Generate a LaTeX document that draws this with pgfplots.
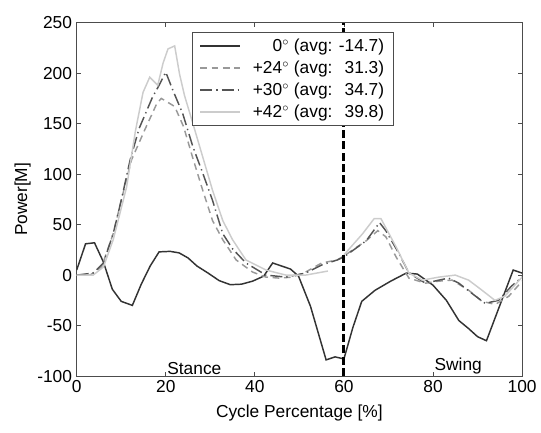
\documentclass[border=0pt]{standalone}
\usepackage{fontspec}
\setmainfont{Liberation Sans}
\usepackage{pgfplots}
\pgfplotsset{compat=1.18}
\definecolor{ser0}{gray}{0.20}
\definecolor{ser24}{gray}{0.60}
\definecolor{ser30}{gray}{0.33}
\definecolor{ser42}{gray}{0.80}
\definecolor{axgray}{gray}{0.30}
\newcommand{\figfont}{\fontsize{13}{15}\selectfont}

\begin{document}
\begin{tikzpicture}
\begin{axis}[
  scale only axis,
  width=334pt, height=265pt,
  xmin=0, xmax=100, ymin=-100, ymax=250,
  xtick={0,20,...,100}, ytick={-100,-50,...,250},
  tick align=inside, tick pos=both,
  major tick length=3pt,
  axis line style={axgray, line width=0.8pt},
  tick style={axgray, line width=0.6pt},
  xlabel={Cycle Percentage [\%]},
  ylabel={Power[M]},
  tick label style={font=\figfont},
  label style={font=\figfont},
  ylabel style={yshift=-2pt},
  xlabel style={yshift=-2pt},
  /pgf/number format/assume math mode=true,
  unbounded coords=jump,
  legend style={at={(axis cs:26,241)}, anchor=north west,
    font=\figfont, draw=axgray, line width=0.6pt,
    row sep=1.5pt, column sep=7pt, inner xsep=5pt, inner ysep=3pt},
  legend cell align=right,
  legend image code/.code={
    \draw[#1] (0cm,0cm) -- (1.05cm,0cm);},
]
% 0 deg
\addplot[ser0, line width=1.1pt] coordinates {
  (0,5) (2,31) (4,32) (6,13) (8,-14) (10,-26) (12.5,-30) (14.5,-9)
  (16.5,9) (18.5,23) (21,23.5) (23,22) (25,17) (27,9) (29.5,2)
  (32,-5.5) (34.5,-9.5) (37,-9) (39.5,-6) (42,-1) (44,12) (48,6)
  (49.8,-1) (52.5,-31) (56,-84) (58,-81) (60,-83) (62,-52) (64,-26)
  (67,-15) (70.5,-6) (74,2) (76.5,1) (80,-10) (83,-25) (85.8,-45)
  (88,-53) (90,-61) (92,-65) (95,-30) (98,5) (100,2)
};
\addlegendentry{0$^{\circ}$ (avg: -14.7)}
% +24 deg
\addplot[ser24, line width=1.1pt, dash pattern=on 5pt off 3.5pt] coordinates {
  (0,0) (3,0) (5.6,8) (8.2,41) (10,74) (12.3,114) (15.3,144) (18,170)
  (19,175) (22,167) (24,147) (26,117) (28.3,84) (30.5,54) (32.8,35)
  (35.8,15) (39.5,3) (42.5,-2) (45.5,-3) (48.4,-2) (51.4,3) (55,12)
  (58.5,15) (60,19) (65,34) (67.6,44) (69.4,38) (71.7,18) (74.6,-3)
  (78.3,-8) (81.3,-6) (84.3,-5) (88,-15) (91,-26) (94,-29) (97,-21)
  (100,-6)
};
\addlegendentry{+24$^{\circ}$ (avg: \hphantom{-}31.3)}
% +30 deg
\addplot[ser30, line width=1.1pt, dash pattern=on 9pt off 3pt on 1pt off 3pt] coordinates {
  (0,0) (3.7,2) (6,12) (8.2,41) (10,74) (12,114) (14,145) (17,176)
  (18.5,188) (20,201) (21.6,183) (23.8,160) (26.1,127) (28.3,101)
  (30.5,74) (32.8,41) (35,26) (38,12) (42.5,0) (47,-2) (51.4,2)
  (55,10) (58.5,15) (60,18) (65,34) (68,52) (69.4,44) (72.4,21)
  (74.6,2) (78.3,-8) (81.3,-5) (83.5,-3) (85.8,-8) (88.7,-18)
  (91.7,-28) (94.7,-25) (97.6,-11) (100,-2)
};
\addlegendentry{+30$^{\circ}$ (avg: \hphantom{-}34.7)}
% +42 deg
\addplot[ser42, line width=1.1pt] coordinates {
  (0,0) (3.7,0) (6,8) (8.2,35) (11.2,87) (13.2,143) (14.9,181)
  (16.4,196) (18.2,188) (19.4,210) (20.5,224) (22,227) (23.1,199)
  (24.2,178) (26.1,150) (28.3,117) (30.5,84) (32.8,54) (35,35)
  (38,15) (42.5,5) (47,0) (51.4,0) (56.4,4) (58,nan)
  (60,20) (64.2,41) (66.8,56) (68.3,56) (71.7,28) (74.6,2) (77.6,-5)
  (81.3,-2) (85,0) (88,-5) (91,-15) (93.9,-25) (96.1,-21) (100,-2)
};
\addlegendentry{+42$^{\circ}$ (avg: \hphantom{-}39.8)}
% stance / swing boundary
\addplot[black, line width=2.2pt, dash pattern=on 6pt off 2.5pt, forget plot]
  coordinates {(60,-100) (60,250)};
\node[anchor=south west, inner sep=1pt, font=\figfont]
  at (axis cs:20,-100) {Stance};
\node[anchor=south west, inner sep=1pt, font=\figfont]
  at (axis cs:80,-100) {Swing};
\end{axis}
\path (-57.5pt,-42pt) rectangle (347.5pt,282pt);
\end{tikzpicture}
\end{document}
